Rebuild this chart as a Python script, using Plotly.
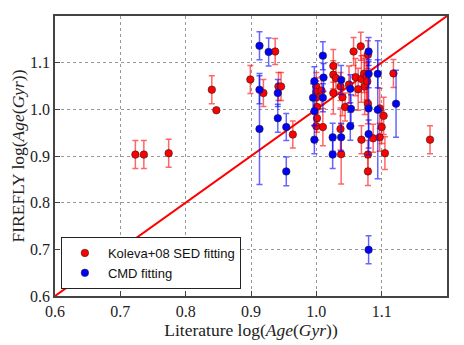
import plotly.graph_objects as go

# Koleva+08 SED fitting
kol_x = [0.723, 0.736, 0.774, 0.840, 0.847, 0.899, 0.937, 0.919, 0.942, 0.946,
         0.964, 1.000, 1.000, 1.000, 1.001, 1.001, 1.000, 1.010, 1.008, 1.026,
         1.026, 1.026, 1.030, 1.037, 1.040, 1.044, 1.037, 1.038, 1.057, 1.060,
         1.064, 1.068, 1.069, 1.073, 1.074, 1.069, 1.079, 1.077, 1.079, 1.079,
         1.079, 1.087, 1.097, 1.097, 1.100, 1.103, 1.105, 1.118, 1.174, 1.078,
         1.050]
kol_y = [0.903, 0.903, 0.906, 1.042, 0.998, 1.064, 1.124, 1.035, 1.049, 1.049,
         0.946, 1.049, 1.037, 1.026, 1.005, 0.981, 0.964, 0.962, 1.040, 1.093,
         1.074, 1.035, 1.067, 1.049, 1.026, 1.005, 0.958, 0.904, 1.124, 1.069,
         1.043, 1.135, 1.065, 1.076, 1.049, 0.935, 1.117, 1.070, 1.012, 0.903,
         0.867, 0.938, 1.002, 0.940, 0.962, 0.986, 0.906, 1.077, 0.935, 1.060,
         1.053]
kol_err = [0.030, 0.030, 0.030, 0.030, 0.002, 0.030, 0.028, 0.029, 0.030, 0.030,
           0.029, 0.030, 0.030, 0.035, 0.030, 0.030, 0.030, 0.040, 0.030, 0.035,
           0.030, 0.045, 0.030, 0.030, 0.040, 0.030, 0.045, 0.064, 0.030, 0.040,
           0.045, 0.030, 0.050, 0.040, 0.060, 0.030, 0.030, 0.050, 0.043, 0.030,
           0.030, 0.030, 0.043, 0.030, 0.035, 0.040, 0.035, 0.030, 0.030, 0.040,
           0.040]

# CMD fitting
cmd_x = [0.913, 0.927, 0.913, 0.913, 0.941, 0.941, 0.954, 0.954, 0.997, 0.995,
         0.997, 0.997, 1.010, 1.011, 1.010, 1.025, 1.025, 1.038, 1.038, 1.052,
         1.053, 1.052, 1.080, 1.080, 1.080, 1.080, 1.080, 1.094, 1.094, 1.122]
cmd_y = [1.136, 1.123, 1.042, 0.958, 1.035, 0.981, 0.962, 0.867, 1.060, 1.025,
         0.996, 0.935, 1.115, 1.068, 1.025, 0.940, 0.903, 1.063, 0.940, 1.044,
         1.001, 0.964, 1.124, 1.076, 1.002, 0.947, 0.699, 1.076, 0.999, 1.012]
cmd_err = [0.030, 0.030, 0.030, 0.119, 0.029, 0.030, 0.029, 0.031, 0.031, 0.030,
           0.030, 0.030, 0.030, 0.030, 0.030, 0.030, 0.030, 0.031, 0.030, 0.030,
           0.030, 0.030, 0.030, 0.030, 0.100, 0.030, 0.030, 0.030, 0.148, 0.072]

line_xy = [0.6, 1.2]
tick_vals = [0.6, 0.7, 0.8, 0.9, 1.0, 1.1]
tick_text = ["0.6", "0.7", "0.8", "0.9", "1.0", "1.1"]

fig = go.Figure()
fig.add_trace(go.Scatter(
    x=line_xy, y=line_xy, mode="lines", line=dict(color="red", width=2),
    showlegend=False, hoverinfo="skip"))
fig.add_trace(go.Scatter(
    x=kol_x, y=kol_y, mode="markers", name="Koleva+08 SED fitting",
    marker=dict(color="red", size=7.5, line=dict(color="#222", width=0.6)),
    error_y=dict(type="data", array=kol_err, color="rgba(255,0,0,0.6)",
                 thickness=1.5, width=3)))
fig.add_trace(go.Scatter(
    x=cmd_x, y=cmd_y, mode="markers", name="CMD fitting",
    marker=dict(color="blue", size=7.5, line=dict(color="#222", width=0.6)),
    error_y=dict(type="data", array=cmd_err, color="rgba(0,0,255,0.6)",
                 thickness=1.5, width=3)))

axis_common = dict(
    tickvals=tick_vals, ticktext=tick_text, showgrid=True,
    gridcolor="#999", griddash="dot", gridwidth=1,
    showline=True, linecolor="#444", linewidth=1.5, mirror=True,
    ticks="inside", ticklen=5, tickcolor="#444", zeroline=False,
    tickfont=dict(family="Liberation Serif", size=16, color="#222"))

fig.update_xaxes(range=[0.6, 1.2], title=dict(
    text="Literature log(<i>Age</i>(<i>Gyr</i>))", standoff=4,
    font=dict(family="Liberation Serif", size=17.5, color="#222")), **axis_common)
fig.update_yaxes(range=[0.6, 1.2], title=dict(
    text="FIREFLY log(<i>Age</i>(<i>Gyr</i>))", standoff=4,
    font=dict(family="Liberation Serif", size=17.5, color="#222")), **axis_common)

fig.update_layout(
    width=456, height=337,
    margin=dict(l=45, r=17, t=6, b=49),
    paper_bgcolor="white", plot_bgcolor="white",
    legend=dict(x=0.015, y=0.025, xanchor="left", yanchor="bottom",
                bgcolor="white", bordercolor="#222", borderwidth=1,
                font=dict(family="Liberation Sans", size=13, color="#111"),
                itemwidth=36),
)

fig.write_html("out.html")
